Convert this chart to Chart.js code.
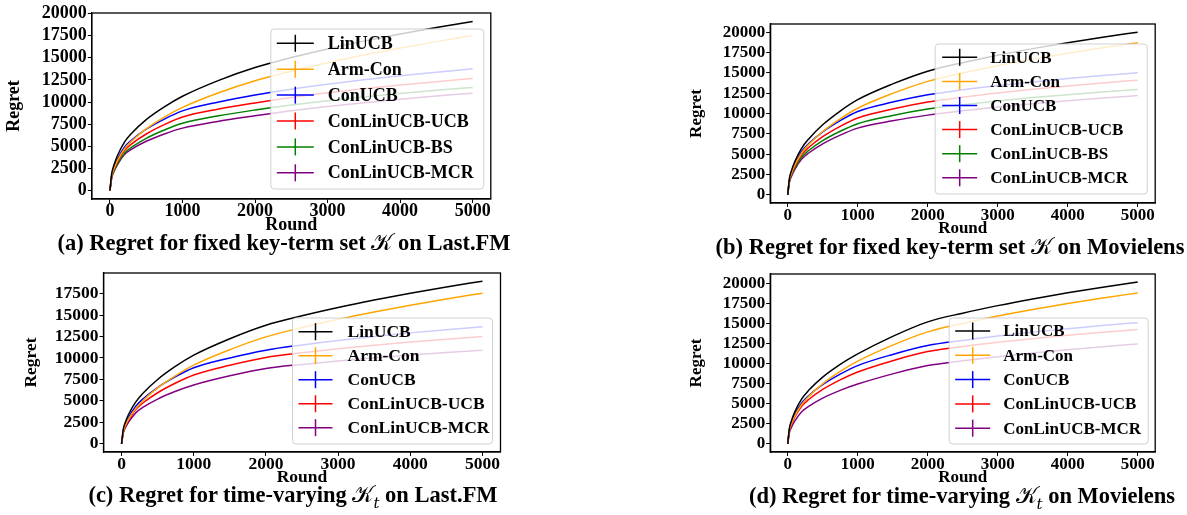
<!DOCTYPE html>
<html><head><meta charset="utf-8">
<script src="https://cdn.jsdelivr.net/npm/chart.js@4.4.0/dist/chart.umd.min.js"></script>
<style>
html,body{margin:0;padding:0;background:#fff;}
#page{position:relative;width:1187px;height:515px;overflow:hidden;background:#fff;}
canvas{position:absolute;}
.cap{position:absolute;font-family:"Liberation Serif","Times New Roman",serif;font-weight:bold;font-size:22.5px;white-space:nowrap;transform:translate(-50%,-50%);color:#000;line-height:1;}
.k{font-family:"DejaVu Sans",serif;font-style:normal;font-weight:normal;}
.k sub{font-family:"DejaVu Serif",serif;font-style:italic;font-size:15px;}
</style></head><body><div id="page"></div>
<script>
// ---------- data ----------
const rounds = [0,25,50,100,200,300,500,750,1000,1500,2000,2500,3000,3500,4000,4500,5000];
const xTicks = [0,1000,2000,3000,4000,5000];
const yTicksTo20000 = [0,2500,5000,7500,10000,12500,15000,17500,20000];
const yTicksTo17500 = [0,2500,5000,7500,10000,12500,15000,17500];
const seriesNames = ['LinUCB','Arm-Con','ConUCB','ConLinUCB-UCB','ConLinUCB-BS','ConLinUCB-MCR'];
const seriesNamesNoBS = ['LinUCB','Arm-Con','ConUCB','ConLinUCB-UCB','ConLinUCB-MCR'];

// (a) fixed key-term set, Last.FM
const aLinUCB = [0,1934,2735,3868,5470,6478,8015,9450,10650,12450,13900,15019,15999,16879,17678,18415,19100];
const aArmCon = [0,1662,2350,3323,4700,5597,6974,8305,9400,11054,12400,13485,14442,15304,16091,16821,17500];
const aConUCB = [0,1732,2450,3465,4900,5711,6927,8074,9000,10013,10800,11454,12018,12516,12964,13372,13750];
const aUCB    = [0,1598,2260,3196,4520,5269,6389,7448,8300,9201,9900,10509,11034,11499,11917,12298,12650];
const aBS     = [0,1492,2110,2984,4220,4894,5899,6841,7600,8445,9100,9664,10151,10581,10970,11324,11650];
const aMCR    = [0,1439,2035,2878,4070,4674,5565,6391,7050,7838,8450,9010,9496,9926,10316,10672,11000];

// (b) fixed key-term set, Movielens
const bLinUCB = [0,2033,2875,4066,5750,6877,8616,10305,11700,13636,15200,16250,17162,17974,18707,19378,20000];
const bArmCon = [0,1821,2575,3642,5150,6185,7789,9353,10650,12472,13950,14982,15882,16684,17411,18081,18700];
const bConUCB = [0,1891,2675,3783,5350,6302,7747,9126,10250,11403,12300,12909,13429,13885,14293,14662,15000];
const bUCB    = [0,1750,2475,3500,4950,5826,7153,8419,9450,10546,11400,12005,12524,12980,13389,13760,14100];
const bBS     = [0,1644,2325,3288,4650,5453,6664,7815,8750,9762,10550,11090,11551,11956,12319,12648,12950];
const bMCR    = [0,1556,2200,3111,4400,5147,6271,7337,8200,9101,9800,10337,10798,11203,11567,11897,12200];

// (c) time-varying key-terms, Last.FM
const cLinUCB = [0,1736,2455,3472,4910,5922,7498,9044,10330,12247,13820,14924,15892,16758,17547,18274,18950];
const cArmCon = [0,1464,2070,2927,4140,5058,6511,7955,9170,10971,12460,13544,14500,15359,16144,16872,17550];
const cConUCB = [0,1559,2205,3118,4410,5258,6561,7822,8860,10007,10910,11522,12047,12509,12925,13303,13650];
const cUCB    = [0,1421,2010,2843,4020,4783,5952,7082,8010,9152,10060,10606,11075,11487,11856,12192,12500];
const cMCR    = [0,1287,1820,2574,3640,4269,5218,6119,6850,7921,8780,9255,9662,10021,10341,10633,10900];

// (d) time-varying key-terms, Movielens
const dLinUCB = [0,1980,2800,3960,5600,6668,8309,9895,11200,13391,15200,16281,17220,18056,18813,19508,20150];
const dArmCon = [0,1732,2450,3465,4900,5909,7480,9019,10300,12300,13950,15002,15918,16739,17482,18166,18800];
const dConUCB = [0,1803,2550,3606,5100,6005,7376,8685,9750,11143,12250,12891,13438,13920,14351,14742,15100];
const dUCB    = [0,1662,2350,3323,4700,5528,6782,7977,8950,10364,11500,12116,12644,13109,13525,13904,14250];
const dMCR    = [0,1414,2000,2828,4000,4678,5699,6666,7450,8720,9750,10348,10864,11320,11730,12105,12450];

// ---------- styles / layout ----------
const colorByName = {'LinUCB':'#000000','Arm-Con':'#FFA500','ConUCB':'#0000FF','ConLinUCB-UCB':'#FF0000','ConLinUCB-BS':'#008000','ConLinUCB-MCR':'#800080'};
const SERIF = '"Liberation Serif","Times New Roman",serif';

const panels = [
  {series:[aLinUCB,aArmCon,aConUCB,aUCB,aBS,aMCR], names:seriesNames, yTicks:yTicksTo20000,
   box:[92,13,491,199], yRange:[-955,20055], font:18, yTitleX:15, xTitleY:225, cy:0,
   legend:{x:271,y:29,w:213,h:160,row0:43.3,step:25.9,h0:277,h1:314,tx:328},
   cap:{x:284,y:243,html:'(a) Regret for fixed key-term set <span class="k">𝒦</span> on Last.FM'}},
  {series:[bLinUCB,bArmCon,bConUCB,bUCB,bBS,bMCR], names:seriesNames, yTicks:yTicksTo20000,
   box:[770,24,1155,203], yRange:[-1000,21000], font:17, yTitleX:696, xTitleY:229, cy:0,
   legend:{x:935,y:44,w:212,h:150,row0:57.3,step:24.1,h0:942,h1:977,tx:990},
   cap:{x:950,y:247,html:'(b) Regret for fixed key-term set <span class="k">𝒦</span> on Movielens'}},
  {series:[cLinUCB,cArmCon,cConUCB,cUCB,cMCR], names:seriesNamesNoBS, yTicks:yTicksTo17500,
   box:[103,273,500,452], yRange:[-948,19898], font:17.5, yTitleX:31, xTitleY:477, cy:255,
   legend:{x:292,y:318,w:200,h:126,row0:331.7,step:24,h0:298,h1:332,tx:347},
   cap:{x:293,y:497,html:'(c) Regret for time-varying <span class="k">𝒦<sub>t</sub></span> on Last.FM'}},
  {series:[dLinUCB,dArmCon,dConUCB,dUCB,dMCR], names:seriesNamesNoBS, yTicks:yTicksTo20000,
   box:[770,274,1155,452], yRange:[-1008,21158], font:17, yTitleX:696, xTitleY:478, cy:255,
   legend:{x:949,y:318,w:199,h:126,row0:331,step:24.3,h0:955,h1:990,tx:1003},
   cap:{x:962,y:498,html:'(d) Regret for time-varying <span class="k">𝒦<sub>t</sub></span> on Movielens'}}
];

const frameLegend = {
  id:'frameLegend',
  afterDatasetsDraw(chart, args, o){
    const ctx = chart.ctx, ca = chart.chartArea, L = o.legend;
    ctx.save();
    const r = 3.5;
    ctx.beginPath();
    ctx.moveTo(L.x+r, L.y); ctx.lineTo(L.x+L.w-r, L.y); ctx.quadraticCurveTo(L.x+L.w, L.y, L.x+L.w, L.y+r);
    ctx.lineTo(L.x+L.w, L.y+L.h-r); ctx.quadraticCurveTo(L.x+L.w, L.y+L.h, L.x+L.w-r, L.y+L.h);
    ctx.lineTo(L.x+r, L.y+L.h); ctx.quadraticCurveTo(L.x, L.y+L.h, L.x, L.y+L.h-r);
    ctx.lineTo(L.x, L.y+r); ctx.quadraticCurveTo(L.x, L.y, L.x+r, L.y);
    ctx.closePath();
    ctx.fillStyle = 'rgba(255,255,255,0.8)'; ctx.fill();
    ctx.strokeStyle = 'rgba(204,204,204,0.9)'; ctx.lineWidth = 1; ctx.stroke();
    chart.data.datasets.forEach((ds, i) => {
      const y = L.row0 + i*L.step;
      ctx.strokeStyle = ds.borderColor; ctx.lineWidth = 1.5;
      ctx.beginPath(); ctx.moveTo(L.h0, y); ctx.lineTo(L.h1, y); ctx.stroke();
      const m = (L.h0 + L.h1)/2;
      ctx.beginPath(); ctx.moveTo(m, y-8.5); ctx.lineTo(m, y+8.5); ctx.stroke();
      ctx.fillStyle = '#000'; ctx.font = 'bold ' + o.font + 'px ' + SERIF;
      ctx.textBaseline = 'middle'; ctx.textAlign = 'left';
      ctx.fillText(ds.label, L.tx, y + 1);
    });
    ctx.strokeStyle = '#000'; ctx.lineWidth = 1.3;
    ctx.strokeRect(ca.left, ca.top, ca.right - ca.left, ca.bottom - ca.top);
    ctx.restore();
  }
};

const page = document.getElementById('page');
panels.forEach(p => {
  const lh = p.font * 1.2;
  const [L, T, R, B] = p.box;
  const cx = p.yTitleX - lh/2;
  const cy = p.cy;
  const right = R + 24;
  const bottom = p.xTitleY + lh/2;
  const cw = Math.round(right - cx), ch = Math.round(bottom - cy);
  const cv = document.createElement('canvas');
  cv.width = cw; cv.height = ch;
  cv.style.left = cx + 'px'; cv.style.top = cy + 'px';
  cv.style.width = cw + 'px'; cv.style.height = ch + 'px';
  page.appendChild(cv);

  const lg = p.legend;
  const legendLocal = {x:lg.x-cx, y:lg.y-cy, w:lg.w, h:lg.h, row0:lg.row0-cy, step:lg.step, h0:lg.h0-cx, h1:lg.h1-cx, tx:lg.tx-cx};
  const tickFont = {family:SERIF, weight:'bold', size:p.font, lineHeight:1.2};

  const datasets = p.series.map((vals, i) => ({
    label: p.names[i],
    data: rounds.map((r, j) => ({x:r, y:vals[j]})),
    borderColor: colorByName[p.names[i]],
    backgroundColor: colorByName[p.names[i]],
    borderWidth: 1.5,
    pointRadius: 0,
    cubicInterpolationMode: 'monotone',
    fill: false
  }));

  new Chart(cv, {
    type: 'line',
    data: {datasets},
    plugins: [frameLegend],
    options: {
      responsive: false, animation: false, devicePixelRatio: 1,
      layout: {padding: {left:0, top: T - cy, right: (cx + cw) - R, bottom: 0}},
      plugins: {legend:{display:false}, tooltip:{enabled:false}, frameLegend:{legend:legendLocal, font:p.font}},
      scales: {
        x: {
          type:'linear', min:-250, max:5250,
          afterBuildTicks: s => { s.ticks = xTicks.map(v => ({value:v})); },
          afterFit: s => { s.height = (cy + ch) - B; },
          ticks: {font:tickFont, color:'#000', padding:-2, autoSkip:false, maxRotation:0, minRotation:0, callback: v => String(v)},
          grid: {display:true, drawOnChartArea:false, drawTicks:true, tickLength:4, color:'#000', lineWidth:1},
          border: {display:true, color:'#000', width:1.3},
          title: {display:true, text:'Round', font:tickFont, color:'#000', padding:0}
        },
        y: {
          type:'linear', min:p.yRange[0], max:p.yRange[1],
          afterBuildTicks: s => { s.ticks = p.yTicks.map(v => ({value:v})); },
          afterFit: s => { s.width = L - cx; },
          ticks: {font:tickFont, color:'#000', padding:1, autoSkip:false, callback: v => String(v)},
          grid: {display:true, drawOnChartArea:false, drawTicks:true, tickLength:4, color:'#000', lineWidth:1},
          border: {display:true, color:'#000', width:1.3},
          title: {display:true, text:'Regret', font:tickFont, color:'#000', padding:0}
        }
      }
    }
  });

  const cap = document.createElement('div');
  cap.className = 'cap';
  cap.style.left = p.cap.x + 'px'; cap.style.top = p.cap.y + 'px';
  cap.innerHTML = p.cap.html;
  page.appendChild(cap);
});
</script>
</body></html>
